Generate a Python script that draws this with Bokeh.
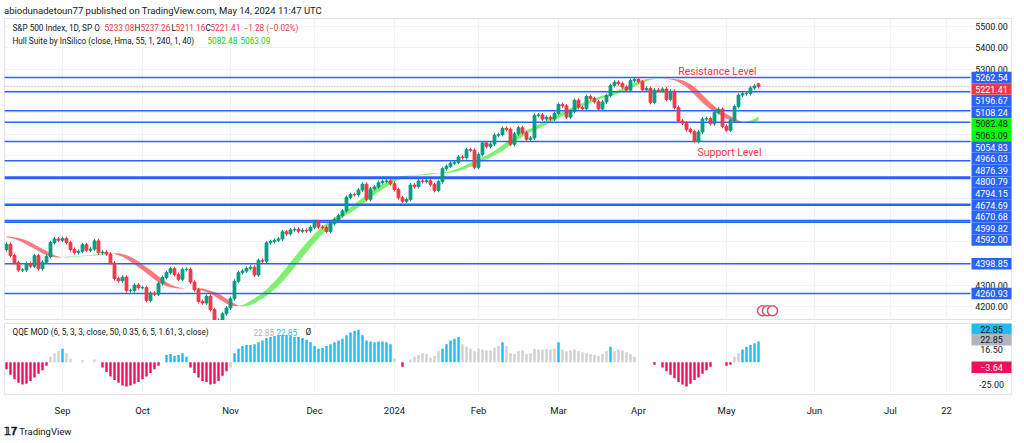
import numpy as np
import pandas as pd
from bokeh.plotting import figure
from bokeh.layouts import column
from bokeh.models import Div, FixedTicker, Range1d
from bokeh.core.properties import value
from bokeh.embed import file_html
from bokeh.resources import INLINE

# ---------------- data ----------------
holidays = ["2023-09-04", "2023-11-23", "2023-12-25", "2024-01-01", "2024-01-15",
            "2024-02-19", "2024-03-29", "2024-05-27", "2024-06-19", "2024-07-04"]
warmup_closes = [4455, 4446, 4411, 4399, 4410, 4439, 4472, 4510, 4505, 4523, 4555, 4566, 4534,
                 4536, 4554, 4567, 4566, 4537, 4582, 4589, 4577, 4513, 4502, 4478, 4518, 4499,
                 4468, 4469, 4464]
closes = [
    4489, 4437, 4404, 4370, 4370, 4400, 4388, 4436, 4376, 4406, 4433, 4497, 4514, 4508,
    4516, 4497, 4465, 4451, 4457, 4487, 4462, 4467, 4505, 4450, 4453, 4444, 4402, 4330, 4320, 4337, 4274, 4275, 4300, 4288,
    4288, 4229, 4263, 4258, 4308, 4336, 4358, 4376, 4349, 4327, 4373, 4373, 4314, 4278, 4224, 4217, 4248, 4186, 4137, 4117, 4167, 4194,
    4237, 4318, 4358, 4365, 4378, 4383, 4347, 4415, 4411, 4496, 4502, 4508, 4514, 4547, 4538, 4556, 4559, 4550, 4554, 4551, 4568,
    4594, 4569, 4567, 4549, 4585, 4604, 4622, 4644, 4707, 4720, 4719, 4741, 4768, 4698, 4746, 4755, 4775, 4781, 4783, 4770,
    4743, 4705, 4689, 4697, 4764, 4757, 4783, 4780, 4784, 4766, 4739, 4780, 4840, 4851, 4865, 4869, 4894, 4891, 4928, 4925, 4846,
    4906, 4959, 4943, 4954, 4995, 4998, 5027, 5022, 4953, 5001, 5030, 5006, 4976, 4982, 5087, 5089, 5070, 5078, 5070, 5096,
    5137, 5131, 5079, 5105, 5157, 5124, 5118, 5175, 5165, 5150, 5117, 5149, 5179, 5225, 5241, 5234, 5218, 5204, 5248, 5254,
    5243, 5205, 5211, 5147, 5204, 5202, 5209, 5161, 5199, 5123, 5061, 5051, 5022, 5011, 4967, 5010, 5070, 5072, 5048, 5100, 5116, 5036,
    5018, 5064, 5128, 5181, 5187, 5188, 5214, 5223, 5221.41,
]
first_open = 4465
wick = 9

qqe_vals = [
    -8, -14, -19, -23, -25, -24, -21, -17, -13, -9, -4, 6, 10, 12,
    15, 10, 4, 0, 0, 2, 0, 0, 3, 0, -6, -11, -16, -20, -23, -26, -27, -26, -24, -22,
    -19, -16, -12, -8, -4, 0, 8, 9, 7, 8, 10, 6, -6, -12, -17, -21, -22, -25, -24, -21, -15, -10,
    -6, 10, 15, 18, 19, 19, 20, 22, 24, 27, 28, 29, 29, 30, 30, 29, 28, 28, 27, 25, 22,
    18, 15, 16, 18, 20, 22, 24, 26, 30, 33, 35, 36, 30, 24, 23, 22, 23, 23, 22, 20,
    4, 0, -5, 0, 3, 6, 8, 10, 9, 5, 7, 12, 15, 20, 24, 26, 28, 20, 17, 15, 12,
    15, 14, 13, 13, 16, 18, 22, 18, 10, 9, 12, 13, 9, 10, 15, 14, 14, 15, 14, 15,
    22, 14, 12, 13, 14, 12, 11, 10, 9, 8, 7, 9, 12, 17, 12, 14, 13, 11, 9, 6,
    0, 0, 0, 0, -3, 0, -6, -10, -14, -18, -22, -25, -27, -24, -20, -17, -13, -9, -5, 0, 0, 0,
    -4, -3, 6, 10, 14, 17, 19, 21, 22.85,
]
qqe_kind = ("rrrrrrrrrrrggg" + "bgg..g..g." + "rrrrrrrrrr" + "rrrrr.bbbbbbrrrrrrrrrr" +
            "g" + "b" * 20 + "b" * 20 + "g.r.ggggggggbbbbbgggg" + "ggggggbggggggggggggg" +
            "bggggggggggggbgggggg" + "....r.rrrrrrrrrrrrr..." + "rrggbbbbb")

levels = [5262.54, 5196.67, 5108.24, 5054.83, 4966.03, 4876.39, 4800.79, 4794.15,
          4674.69, 4670.68, 4599.82, 4592.00, 4398.85, 4260.93]
last_close = 5221.41
hull_vals = [5082.48, 5063.09]
price_ticks = [5500, 5400, 5300, 4300, 4200]
qqe_ticks = [16.50, -25.00]
qqe_last = [22.85, -3.64]

# ---------------- derived ----------------
dates = pd.bdate_range("2023-08-14", "2024-08-30", freq="C", holidays=holidays)
n = len(closes)
idx = np.arange(n)
c = np.array(closes, float)
o = np.concatenate([[first_open], c[:-1]])
o[-1] = 5233.08
hi = np.maximum(o, c) + wick
lo = np.minimum(o, c) - wick
hi[-1], lo[-1] = 5237.26, 5211.16
up = c >= o

ticks, labels = [], {}
prev = None
for i, d in enumerate(dates):
    if i > 240:
        break
    if prev is not None and d.month != prev.month:
        ticks.append(i)
        labels[i] = "2024" if (d.year == 2024 and d.month == 1) else d.strftime("%b")
    if d.year == 2024 and d.month == 7 and d.day >= 22 and "22" not in labels.values():
        ticks.append(i)
        labels[i] = "22"
    prev = d
ticks = [t for t in ticks if t > 5]


def wma(x, L):
    out = np.zeros_like(x)
    for i in range(len(x)):
        k = min(L, i + 1)
        w = np.arange(k, 0, -1, dtype=float)
        out[i] = np.dot(w, x[i - np.arange(k)]) / w.sum()
    return out


full = np.concatenate([np.array(warmup_closes, float), c])
hma_full = wma(2 * wma(full, 27) - wma(full, 55), 7)
nw = len(warmup_closes)
hma = hma_full[nw:]
shull = hma_full[nw - 2:-2]
green = hma >= shull

FONT = value("Roboto")
BLUE = "#2962ff"
RED = "#f23645"
W = 1008
X0, X1 = -0.5, 251.5
PX = W / (X1 - X0)
OX = 8  # page x of the frame's left edge


def px2i(px):
    return (px - OX) / PX + X0


YT, YB = 5536, 4136
top = figure(width=W, height=302, x_range=Range1d(X0, X1), y_range=Range1d(YB, YT),
             output_backend="svg", toolbar_location=None, min_border=0,
             outline_line_color="#e0e3eb")
top.xaxis.visible = False
top.yaxis.visible = False
top.xgrid.ticker = FixedTicker(ticks=ticks)
top.ygrid.ticker = FixedTicker(ticks=list(range(4200, 5600, 100)))
top.xgrid.grid_line_color = "#f0f3fa"
top.ygrid.grid_line_color = "#f0f3fa"

start = 0
for i in range(1, n + 1):
    if i == n or green[i] != green[start]:
        seg = slice(start, min(i + 1, n))
        col = "#66ee55" if green[start] else "#f56565"
        top.varea(x=idx[seg], y1=hma[seg], y2=shull[seg], fill_color=col, fill_alpha=0.85)
        start = i

top.segment(x0=[X0] * len(levels), x1=[241] * len(levels), y0=levels, y1=levels,
            line_color=BLUE, line_width=1.6)
top.segment(x0=[X0], x1=[241], y0=[last_close], y1=[last_close], line_color=RED,
            line_dash="1 2", line_alpha=0.7)

colr = np.where(up, "#089981", RED)
top.segment(x0=idx, x1=idx, y0=lo, y1=hi, line_color=colr, line_width=1)
top.vbar(x=idx, width=0.7, top=np.maximum(o, c), bottom=np.minimum(o, c),
         fill_color=colr, line_color=colr)

top.scatter(x=[px2i(766), px2i(771), px2i(776)], y=[4181] * 3, size=10,
            fill_color="white", line_color="#e04a6a", line_width=1.5)

top.text(x=[px2i(721)], y=[5288], text=["Resistance Level"], text_color=RED,
         text_font=FONT, text_font_size="10.5px", text_align="center", text_baseline="middle")
top.text(x=[px2i(733)], y=[4915], text=["Support Level"], text_color=RED,
         text_font=FONT, text_font_size="10.5px", text_align="center", text_baseline="middle")

LO = 4
legend = [("S&P 500 Index, 1D, SP  O", 12, "#131722", 5492),
          ("5233.08", 104, RED, 5492), ("H", 134, "#131722", 5492), ("5237.26", 140, RED, 5492),
          ("L", 171, "#131722", 5492), ("5211.16", 175, RED, 5492), ("C", 205, "#131722", 5492),
          ("5221.41", 210, RED, 5492), ("\u22121.28 (\u22120.02%)", 243, RED, 5492),
          ("Hull Suite by InSilico (close, Hma, 55, 1, 240, 1, 40)", 12, "#131722", 5432),
          ("5082.48", 207, "#22cc22", 5432), ("5063.09", 240, "#22cc22", 5432)]
top.text(x=[px2i(t[1] + LO) for t in legend], y=[t[3] for t in legend], text=[t[0] for t in legend],
         text_color=[t[2] for t in legend], text_font=FONT, text_font_size="8.2px",
         text_baseline="middle")

LX = px2i(995)
top.text(x=[LX] * len(price_ticks), y=price_ticks, text=["%.2f" % v for v in price_ticks],
         text_color="#131722", text_font=FONT, text_font_size="9px",
         text_align="center", text_baseline="middle")
items = [(v, BLUE, "white") for v in levels] + [(last_close, RED, "white")] + \
        [(v, "#00ff00", "#131722") for v in hull_vals]
items.sort(key=lambda t: -t[0])
ppp = (YT - YB) / 302.0
gap = 11.6 * ppp
disp = []
for v, _, _ in items:
    y = v
    if disp and disp[-1] - y < gap:
        y = disp[-1] - gap
    disp.append(y)
top.rect(x=[LX] * len(items), y=disp, width=40, height=11.5, width_units="screen",
         height_units="screen", fill_color=[t[1] for t in items], line_color=None)
top.text(x=[LX] * len(items), y=disp, text=["%.2f" % t[0] for t in items],
         text_color=[t[2] for t in items], text_font=FONT, text_font_size="9px",
         text_align="center", text_baseline="middle")

bot = figure(width=W, height=98, x_range=top.x_range, y_range=Range1d(-36, 43),
             output_backend="svg", toolbar_location=None, min_border=0, min_border_top=3,
             outline_line_color="#e0e3eb")
bot.yaxis.visible = False
bot.xaxis.ticker = FixedTicker(ticks=ticks)
bot.xaxis.major_label_overrides = labels
bot.xaxis.axis_line_color = None
bot.xaxis.major_tick_line_color = None
bot.xaxis.minor_tick_line_color = None
bot.xaxis.major_label_text_font = "Roboto"
bot.xaxis.major_label_text_font_size = "9.5px"
bot.xaxis.major_label_text_color = "#131722"
bot.xaxis.major_label_standoff = 4
bot.xgrid.ticker = FixedTicker(ticks=ticks)
bot.ygrid.visible = False
bot.xgrid.grid_line_color = "#f0f3fa"

cmap = {"r": "#f50f5a", "g": "#d0d0d0", "b": "#1fbcf0", ".": "#d0d0d0"}
qv = np.array(qqe_vals, float)
qc = [cmap[k] for k in qqe_kind]
bot.vbar(x=idx, width=0.6, top=qv, bottom=0, fill_color=qc, line_color=None)

bot.text(x=[px2i(12 + LO), px2i(253 + LO), px2i(276 + LO), px2i(305 + LO)], y=[33] * 4,
         text=["QQE MOD (6, 5, 3, 3, close, 50, 0.35, 6, 5, 1.61, 3, close)", "22.85", "22.85", "\u00d8"],
         text_color=["#131722", "#b0b0b0", "#1fbcf0", "#131722"], text_font=FONT,
         text_font_size="8.2px", text_baseline="middle")
bot.text(x=[LX] * 2, y=[16.5 - 2, -25], text=["%.2f" % v for v in qqe_ticks], text_color="#131722",
         text_font=FONT, text_font_size="9px", text_align="center", text_baseline="middle")
bx = [LX] * 3
by = [qqe_last[0] + 14, qqe_last[0] + 2, qqe_last[1] - 2]
bc = ["#1fbcf0", "#b2b5be", "#f50f5a"]
bot.rect(x=bx, y=by, width=40, height=11.5, width_units="screen", height_units="screen",
         fill_color=bc, line_color=None)
bot.text(x=bx, y=by, text=["22.85", "22.85", "\u22123.64"], text_color=["#131722", "#131722", "white"],
         text_font=FONT, text_font_size="9px", text_align="center", text_baseline="middle")

header = Div(text="abiodunadetoun77 published on TradingView.com, May 14, 2024 11:47 UTC",
             width=W, height=12, margin=(0, 0, 0, 0),
             styles={"font-family": "Roboto", "font-size": "9.5px", "color": "#131722",
                     "line-height": "9px"})
footer = Div(text="<b style='font-size:11px'>&#x1D7D9;&#x1D7D5;</b> TradingView", width=W, height=14,
             margin=(0, 0, 0, 0),
             styles={"font-family": "Roboto", "font-size": "9.5px", "color": "#131722",
                     "padding-top": "6px"})

page = column(header, top, bot, footer, spacing=0, margin=(6, 0, 0, 4))
open("out.html", "w").write(file_html(page, INLINE))
